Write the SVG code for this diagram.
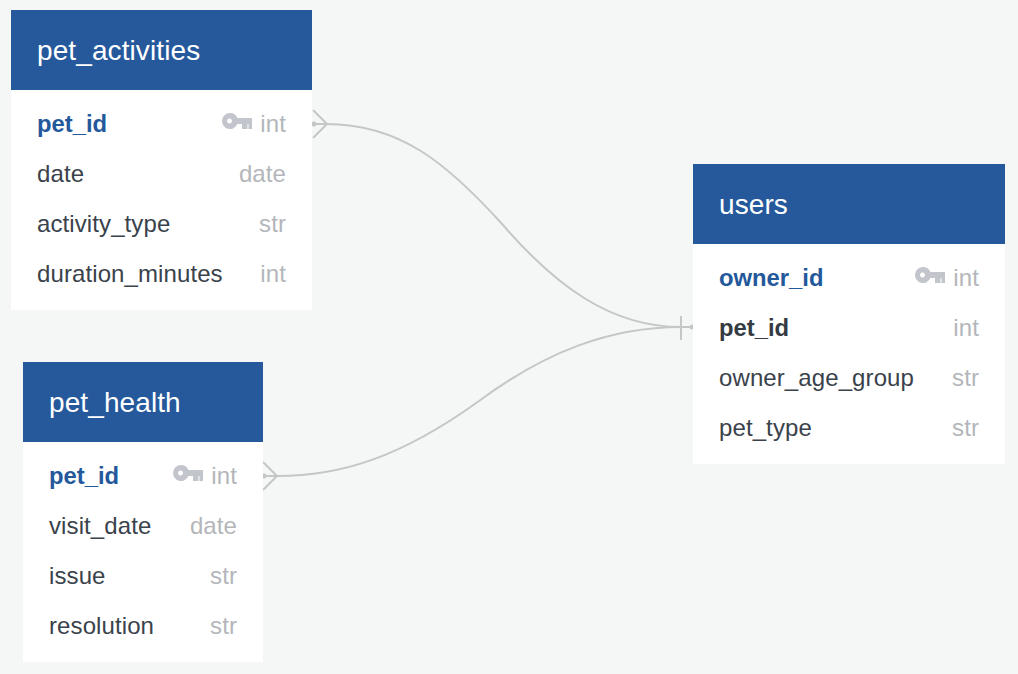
<svg xmlns="http://www.w3.org/2000/svg" width="1018" height="674" viewBox="0 0 1018 674">
<style>
text{font-family:"Liberation Sans",Arial,sans-serif;font-size:24px;fill:#3a424b;letter-spacing:.1px}
.t{font-size:28px;fill:#fff;letter-spacing:.1px}
.p{font-weight:bold;fill:#23589b;font-size:23.8px;letter-spacing:0}
.f{font-weight:bold;fill:#343b42;font-size:23.8px;letter-spacing:0}
.y{fill:#b3b6ba;text-anchor:end}
.h{fill:#25599c}
.b{fill:#fff}
.c{fill:none;stroke:#c5c7c7;stroke-width:2}
.d{fill:#c5c7c7}
</style>
<defs>
<path id="key" fill="#c2c5cb" fill-rule="evenodd" d="M8 0a8 8 0 0 1 7.400 5H30V16H26.500V11H25.500V16H20V11H15.400A8 8 0 1 1 8 0ZM7.500 5.500a2.500 2.500 0 1 0 .01 0Z"/>
</defs>
<rect width="1018" height="674" fill="#f5f7f7"/>
<g id="connectors">
<path class="c" d="M313 124H326C400 124 447 163 503 225C555 285 610 327 681 327H693"/>
<path class="c" d="M264 476H277C340 476 400 458 479 401C545 352 610 327 681 327"/>
<path class="c" d="M313 110L327 124L313 138M263 462L277 476L263 490M681 316V340"/>
<circle class="d" cx="314" cy="124" r="2.500"/><circle class="d" cx="264" cy="476" r="2.500"/><circle class="d" cx="692" cy="327" r="2.500"/>
</g>
<g id="pet_activities">
<rect class="b" x="11" y="10" width="301" height="300"/><rect class="h" x="11" y="10" width="301" height="80"/>
<text class="t" x="37" y="60">pet_activities</text>
<text class="p" x="37" y="132">pet_id</text><use href="#key" x="222" y="113"/><text class="y" x="286" y="132">int</text>
<text x="37" y="182">date</text><text class="y" x="286" y="182">date</text>
<text x="37" y="232">activity_type</text><text class="y" x="286" y="232">str</text>
<text x="37" y="282">duration_minutes</text><text class="y" x="286" y="282">int</text>
</g>
<g id="pet_health">
<rect class="b" x="23" y="362" width="240" height="300"/><rect class="h" x="23" y="362" width="240" height="80"/>
<text class="t" x="49" y="412">pet_health</text>
<text class="p" x="49" y="484">pet_id</text><use href="#key" x="173" y="465"/><text class="y" x="237" y="484">int</text>
<text x="49" y="534">visit_date</text><text class="y" x="237" y="534">date</text>
<text x="49" y="584">issue</text><text class="y" x="237" y="584">str</text>
<text x="49" y="634">resolution</text><text class="y" x="237" y="634">str</text>
</g>
<g id="users">
<rect class="b" x="693" y="164" width="312" height="300"/><rect class="h" x="693" y="164" width="312" height="80"/>
<text class="t" x="719" y="214">users</text>
<text class="p" x="719" y="286">owner_id</text><use href="#key" x="915" y="267"/><text class="y" x="979" y="286">int</text>
<text class="f" x="719" y="336">pet_id</text><text class="y" x="979" y="336">int</text>
<text x="719" y="386">owner_age_group</text><text class="y" x="979" y="386">str</text>
<text x="719" y="436">pet_type</text><text class="y" x="979" y="436">str</text>
</g>
</svg>
